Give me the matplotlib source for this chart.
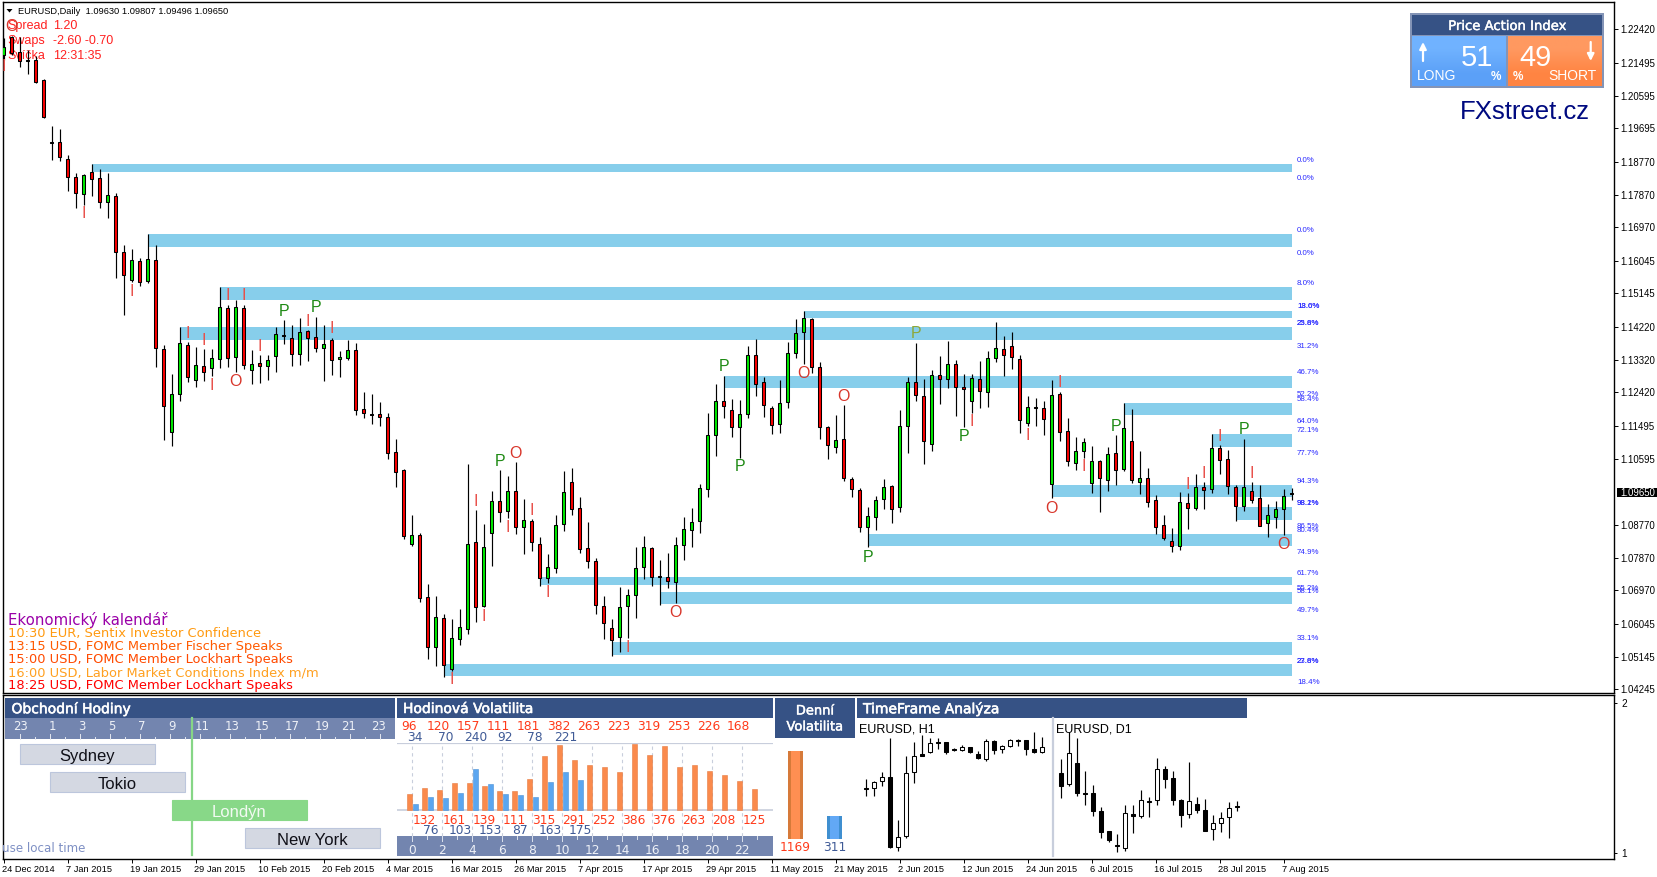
import matplotlib
matplotlib.use('Agg')
import matplotlib.pyplot as plt
import matplotlib.patheffects as pe
from matplotlib.patches import Rectangle, Polygon
from matplotlib.transforms import ScaledTranslation

W, H = 1657, 877

# ---------- daily EURUSD, prices in 1/10000 ----------
body_hi = [12192,12222,12179,12157,12158,12102,11933,11931,11884,11834,
 11840,11848,11832,11785,11782,11628,11606,11603,11609,11606,
 11361,11237,11377,11372,11317,11314,11336,11476,11474,11476,
 11474,11319,11322,11330,11402,11399,11391,11408,11410,11394,
 11375,11386,11339,11358,11358,11196,11182,11182,11173,11077,
 11028,10849,10849,10678,10623,10620,10565,10595,10826,10829,
 10815,10942,10942,10970,10970,10890,10887,10826,10760,10876,
 10967,10994,10923,10813,10777,10653,10592,10650,10683,10758,
 10815,10813,10736,10733,10821,10865,10884,10978,11124,11218,
 11218,11193,11182,11344,11344,11270,11198,11212,11350,11405,
 11446,11443,11311,11146,11110,11113,11003,10972,10901,10945,
 10981,10983,11149,11270,11270,11231,11289,11289,11319,11319,
 11256,11281,11278,11336,11363,11361,11369,11333,11201,11201,
 11198,11234,11237,11135,11082,11105,11052,11052,11072,11074,
 11143,11107,11006,11006,10945,10876,10832,10939,10937,10981,
 10981,11088,11088,11058,10981,10981,10970,10950,10904,10920,
 10956,10964]
body_lo = [12171,12176,12154,12154,12098,12001,11930,11889,11836,11792,
 11789,11831,11767,11767,11628,11566,11553,11547,11550,11364,
 11206,11134,11237,11284,11277,11297,11308,11335,11336,11340,
 11317,11303,11316,11314,11343,11397,11349,11349,11393,11363,
 11363,11330,11333,11338,11193,11186,11179,11173,11076,11024,
 10848,10826,10677,10542,10542,10492,10481,10564,10590,10652,
 10655,10856,10914,10916,10872,10872,10831,10732,10732,10759,
 10879,10920,10810,10777,10658,10606,10561,10568,10653,10683,
 10760,10733,10733,10722,10719,10821,10862,10887,10975,11124,
 11206,11146,11146,11182,11264,11207,11151,11155,11215,11350,
 11408,11311,11146,11096,11091,11005,10975,10872,10871,10900,
 10948,10920,10926,11149,11234,11107,11099,11278,11278,11256,
 11251,11218,11245,11242,11336,11344,11339,11165,11157,11198,
 11168,10989,11132,11052,11049,11080,10992,11005,11002,11029,
 11032,11002,10996,10941,10872,10842,10820,10818,10925,10925,
 10974,10975,11055,10983,10928,10930,10947,10875,10882,10900,
 10920,10961]
wick_hi = [12217,12224,12220,12185,12169,12104,11976,11967,11896,11845,
 11843,11871,11857,11847,11790,11648,11637,11611,11678,11648,
 11373,11293,11423,11381,11367,11362,11362,11532,11483,11497,
 11483,11359,11345,11345,11423,11442,11428,11447,11414,11449,
 11428,11391,11356,11386,11377,11243,11237,11216,11184,11114,
 11030,10905,10854,10714,10681,10631,10617,10647,11045,10918,
 10880,10971,11029,11012,11050,10948,10893,10843,10796,10905,
 11026,11034,10954,10885,10785,10681,10618,10706,10701,10816,
 10847,10816,10781,10800,10843,10899,10924,10990,11185,11265,
 11287,11223,11221,11370,11389,11285,11205,11276,11381,11444,
 11466,11446,11326,11150,11180,11207,11009,10979,10927,10956,
 11004,10987,11194,11285,11378,11279,11304,11342,11384,11330,
 11293,11293,11329,11356,11436,11397,11408,11344,11232,11227,
 11218,11276,11242,11172,11119,11117,11094,11056,11092,11125,
 11213,11196,11081,11034,10959,10905,10869,10968,10965,11017,
 10995,11128,11097,11084,10987,11114,10995,10987,10935,10943,
 10976,10978]
wick_lo = [12158,12171,12139,12119,12093,11999,11882,11879,11797,11751,
 11758,11783,11751,11722,11558,11455,11547,11535,11542,11313,
 11111,11095,11218,11271,11258,11274,11287,11310,11313,11298,
 11307,11265,11268,11276,11298,11375,11315,11318,11329,11352,
 11274,11290,11284,11331,11180,11172,11155,11150,11059,10982,
 10838,10819,10666,10508,10489,10459,10476,10546,10578,10611,
 10650,10764,10886,10895,10853,10797,10805,10710,10716,10745,
 10861,10905,10801,10759,10633,10563,10517,10528,10565,10622,
 10729,10709,10657,10703,10663,10781,10816,10855,10954,11067,
 11172,11119,11061,11172,11232,11174,11128,11130,11199,11337,
 11320,11296,11114,11059,11075,10999,10954,10858,10816,10863,
 10921,10882,10913,11075,11218,11045,11081,11210,11254,11177,
 11146,11185,11199,11202,11326,11287,11307,11130,11150,11150,
 11125,10951,11108,11039,11028,11061,10965,10913,10971,10987,
 11026,10993,10962,10927,10852,10836,10803,10808,10866,10918,
 10921,10965,11017,10962,10889,10915,10938,10874,10844,10869,
 10849,10946]
direction = ("GRRDRRDRRR" "GRRGRRGRGR" "RGGRGRGGRG" "RGRGGDRGRR" "GRGGRRDRRR"
             "RGRRGRGGGR" "GGRGRGRRGG" "GRRRRRRGGG" "GRDRGGGGGG" "RRGGRRRGGG"
             "GRRRGRRRGG" "GRGGRRGRGR" "RGRGGRRRGD" "RGRRGGGRGR" "GRGRRRRGRG"
             "RGRRRGRRGG" "GD")

# supply / demand zones: first bar, upper and lower price
zone_start = [11, 18, 27, 22, 100, 90, 140, 151, 131, 154, 108, 67, 82, 76, 55]
zone_top = [11871,11678,11532,11422,11466,11287,11213,11128,10987,10927,10852,10734,10692,10555,10494]
zone_bot = [11849,11643,11497,11386,11447,11254,11180,11092,10954,10891,10819,10712,10659,10519,10461]

# pattern letters
sig_text = ['O','I','I','I','I','I','I','I','I','O','I','P','P','I','I',
            'P','O','I','I','I','I','I','I','I','O','P','P','O','O','P','P','P','I','I','I','O','I',
            'P','I','I','I','P','I','O']
sig_bar = [1,0,10,16,23,25,26,28,30,29,32,35,39,38,41,
           62,64,59,66,63,60,68,56,78,84,90,92,100,105,108,114,120,121,128,132,131,135,
           139,148,150,152,155,156,160]
sig_price = [12254,12144,11737,11524,11408,11389,11265,11511,11511,11276,11373,11469,11478,11441,11420,
             11054,11077,10946,10921,10874,10629,10693,10454,10544,10640,11317,11040,11298,11235,10792,
             11407,11125,11164,11128,11272,10926,11040,
             11152,10993,11023,11125,11144,11023,10827]

# level percentages
fib_text = ['0.0%','0.0%','0.0%','0.0%','8.0%','13.6%','18.0%','25.8%','23.6%','31.2%','46.7%','52.2%','58.4%',
            '64.0%','72.1%','77.7%','94.3%','98.2%','98.1%','86.5%','80.4%','74.9%','61.7%','55.2%','58.1%',
            '49.7%','33.1%','23.6%','27.8%','18.4%']
fib_price = [11885,11835,11692,11629,11546,11482,11482,11435,11435,11373,11301,11240,11227,
             11166,11141,11078,11001,10940,10940,10877,10866,10805,10747,10706,10698,
             10646,10569,10505,10505,10447]

price_ticks = [1.22420,1.21495,1.20595,1.19695,1.18770,1.17870,1.16970,1.16045,1.15145,1.14220,1.13320,
               1.12420,1.11495,1.10595,1.08770,1.07870,1.06970,1.06045,1.05145,1.04245]
last_price = 1.09650
date_labels = ['24 Dec 2014','7 Jan 2015','19 Jan 2015','29 Jan 2015','10 Feb 2015','20 Feb 2015','4 Mar 2015',
               '16 Mar 2015','26 Mar 2015','7 Apr 2015','17 Apr 2015','29 Apr 2015','11 May 2015','21 May 2015',
               '2 Jun 2015','12 Jun 2015','24 Jun 2015','6 Jul 2015','16 Jul 2015','28 Jul 2015','7 Aug 2015']

calendar_lines = ['10:30 EUR, Sentix Investor Confidence','13:15 USD, FOMC Member Fischer Speaks',
                  '15:00 USD, FOMC Member Lockhart Speaks','16:00 USD, Labor Market Conditions Index m/m',
                  '18:25 USD, FOMC Member Lockhart Speaks']
calendar_colors = ['#FF9A10','#FF5A00','#FF4A00','#FFA020','#FF0000']

# sessions
session_names = ['Sydney','Tokio','Londýn','New York']
session_start = [-1.0, 1.0, 9.13, 14.02]
session_len = [9, 9, 9, 9]
hour_top = [23,1,3,5,7,9,11,13,15,17,19,21,23]
hour_bottom = [0,2,4,6,8,10,12,14,16,18,20,22]
current_hour = 10.47

# hourly volatility
vol_long = [96,132,120,161,157,139,111,111,181,315,382,291,263,252,223,386,319,376,253,263,226,208,168,125]
vol_today = [34,76,70,103,240,153,92,87,78,163,221,175]
vol_day = [1169, 311]

# timeframe mini charts, relative points
h1_top = [207,223,238,238,58,250,301,307,340,344,343,322,328,328,308,347,347,331,349,349,349,322,328]
h1_bot = [204,205,226,30,30,61,253,303,313,341,313,319,321,313,297,293,321,324,333,346,323,314,315]
h1_high = [233,228,253,355,110,302,344,365,355,355,343,325,335,328,317,353,349,335,353,353,350,374,359]
h1_low = [182,182,212,27,17,57,221,303,311,323,309,316,316,312,292,287,308,311,330,333,305,312,312]
h1_kind = "DWWBWWWDWDBDWBBWBWWDBBW"
d1_top = [250,310,280,190,190,136,76,34,130,129,169,166,262,262,235,169,166,157,139,100,115,145,151]
d1_bot = [213,217,192,187,138,75,50,31,27,123,123,163,169,234,171,125,127,141,78,84,102,118,148]
d1_high = [293,374,356,257,215,148,76,68,155,155,200,179,296,272,257,173,284,179,173,124,134,164,166]
d1_low = [176,213,182,155,122,56,44,14,17,71,116,119,155,205,155,89,116,131,77,50,74,56,138]
d1_kind = "BWBDBBBDWBWDWBBBWBBWWWD"

ARIAL = ['Liberation Sans', 'DejaVu Sans']
VERD = ['DejaVu Sans']
HDR = '#365285'
BAND = '#7385AF'
GRID = '#C8CEDC'

fig = plt.figure(figsize=(W/100, H/100), dpi=100, facecolor='white')

def px_axes(l, t, r, b, z=0):
    a = fig.add_axes([l/W, 1-b/H, (r-l)/W, (b-t)/H], zorder=z)
    return a

def bare(a):
    a.set_axis_off()
    a.patch.set_alpha(0)
    return a

# overlays in figure pixels
shapes = bare(px_axes(0, 0, W, H, 1)); shapes.set_xlim(0, W); shapes.set_ylim(H, 0)
labels = bare(px_axes(0, 0, W, H, 5)); labels.set_xlim(0, W); labels.set_ylim(H, 0)

def price_at(y):
    return 1.2242 - (y - 29.3) * 0.18175 / 660

def bar_at(x):
    return (x - 3.6) / 8

# ---------- main chart ----------
main = px_axes(2.5, 2.3, 1614, 693.3, 0)
main.set_xlim(bar_at(2.5), bar_at(1614))
main.set_ylim(price_at(693.3), price_at(2.3))
for s in main.spines.values():
    s.set_linewidth(1.0); s.set_color('black')
main.set_xticks([])
main.yaxis.tick_right()
main.set_yticks(price_ticks)
main.set_yticklabels([f'{v:.5f}' for v in price_ticks], fontsize=6.9, family=ARIAL)
main.tick_params(axis='y', length=2.6, width=0.7, pad=2.2)

last_bar = len(body_hi) - 1
for s, t, b in zip(zone_start, zone_top, zone_bot):
    main.add_patch(Rectangle((s, b/1e4), last_bar - s, (t-b)/1e4, fc='#87CEEB', ec='none', zorder=2))

xs = list(range(len(body_hi)))
main.vlines(xs, [v/1e4 for v in wick_lo], [v/1e4 for v in wick_hi], color='black', lw=0.85, zorder=3)
colmap = {'G': '#00E800', 'R': '#F80000', 'D': 'black'}
main.bar(xs, [(t-b)/1e4 for t, b in zip(body_hi, body_lo)], bottom=[b/1e4 for b in body_lo], width=0.46,
         color=[colmap[d] for d in direction], edgecolor='black', linewidth=0.75, zorder=4)

sigcol = {'P': '#1E8A14', 'O': '#D8352A', 'I': '#E8504A'}
down1 = main.transData + ScaledTranslation(0, -0.012, fig.dpi_scale_trans)
for t, b, p in zip(sig_text, sig_bar, sig_price):
    col = '#8EA83A' if (t == 'P' and b == 114) else sigcol[t]
    main.text(b, p/1e4, t, color=col, fontsize=11.5, family=ARIAL, ha='center', va='center', zorder=6, transform=down1)

for t, p in zip(fib_text, fib_price):
    main.text(bar_at(1297), p/1e4, t, color='#2A2AFF', fontsize=5.7, family=ARIAL, ha='left', va='center', zorder=2, transform=down1)

# chart header text, under the candles
pix = shapes.transData
def under(x, y, s, **kw):
    main.text(x, y, s, transform=pix, va='center', ha='left', zorder=1, clip_on=False, **kw)

under(18, 11.2, 'EURUSD,Daily  1.09630 1.09807 1.09496 1.09650', color='black', fontsize=6.7, family=ARIAL)
for y, a, v in zip([26.2, 41.2, 56.2], ['Spread', 'Swaps', 'Svíčka'], ['1.20', '-2.60 -0.70', '12:31:35']):
    under(7, y, a, color='#FF2020', fontsize=9.0, family=ARIAL)
    under(53, y, v, color='#FF2020', fontsize=9.0, family=ARIAL)
under(8.2, 620.3, 'Ekonomický kalendář', color='#9A00A8', fontsize=10.7, family=VERD)
for y, s, c in zip([633.7, 646.7, 659.7, 672.7, 685.7], calendar_lines, calendar_colors):
    under(8.2, y, s, color=c, fontsize=9.4, family=VERD)
shapes.add_patch(Polygon([(6.5, 9), (12.5, 9), (9.5, 12.5)], fc='black', ec='none'))

# last price tag
shapes.add_patch(Rectangle((1616.7, 487.7), 40, 9.7, fc='black', ec='none', clip_on=False))
labels.text(1620, 492.7, f'{last_price:.5f}', color='white', fontsize=6.9, family=ARIAL, va='center')

# ---------- lower panel ----------
low = px_axes(2.5, 695.3, 1614, 859, 0)
low.set_xlim(bar_at(2.5), bar_at(1614))
low.set_ylim(0, 1)
for s in low.spines.values():
    s.set_linewidth(1.0); s.set_color('black')
low.set_xticks(list(range(0, 8*len(date_labels), 8)))
low.set_xticklabels(date_labels, fontsize=6.7, family=ARIAL, ha='left')
low.tick_params(axis='x', length=2.6, width=0.7, pad=1.6)
left2 = ScaledTranslation(-2/100, 0, fig.dpi_scale_trans)
for lab in low.get_xticklabels():
    lab.set_transform(lab.get_transform() + left2)
low.yaxis.tick_right()
low.set_yticks([0.039, 0.955])
low.set_yticklabels(['1', '2'], fontsize=7.2, family=ARIAL)
low.tick_params(axis='y', length=2, width=0.7, pad=3.5)

def rect(x0, y0, x1, y1, **kw):
    shapes.add_patch(Rectangle((x0, y0), x1-x0, y1-y0, ec='none', **kw))

def header(x0, x1, xt, s):
    rect(x0, 698, x1, 718, fc=HDR)
    t = labels.text(xt, 709, s, color='white', fontsize=10, family=VERD, va='center', ha='left')
    t.set_path_effects([pe.withStroke(linewidth=0.4, foreground='white')])

# trading hours
header(5, 395, 11.5, 'Obchodní Hodiny')
rect(5, 718, 395, 739, fc=BAND)
top_nudge = [0,2,2,2,2,2,2,2,2,2,2,-1,-1]
for i, h in enumerate(hour_top):
    x = 20 + 30*i
    labels.text(x + top_nudge[i], 727, str(h), color='#EEF1F7', fontsize=8.4, family=VERD, ha='center', va='center')
    shapes.plot([x, x], [734, 739], color='#E4E8F0', lw=0.7)
    if i < 12:
        shapes.plot([x+15, x+15], [736.5, 739], color='#E4E8F0', lw=0.7)

sess = bare(px_axes(5, 739, 395, 855, 2))
sess.set_xlim((5-35)/15, (395-35)/15)
sess.set_ylim(3.607, -0.536)
shapes.plot([35 + 15*current_hour]*2, [718, 855], color='#86D686', lw=1.6)
for i, (n, s, d) in enumerate(zip(session_names, session_start, session_len)):
    green = n == 'Londýn'
    sess.barh(i, d, left=s, height=0.696, color='#88D888' if green else '#D4D8E2',
              edgecolor='#88D888' if green else '#BCC6DC', linewidth=0.8)
    labels.text(35 + 15*(s + d/2) - 0.5, 754 + 28*i + 2.5, n, color='#F2FAF2' if green else '#101018',
                fontsize=12, family=ARIAL, ha='center', va='center')
labels.text(2.5, 849, 'use local time', color='#7F90C4', fontsize=8.6, family=VERD, va='center')

# hourly volatility
header(397, 773, 403, 'Hodinová Volatilita')
rect(397, 836, 773, 856, fc=BAND)
vol = bare(px_axes(397, 743.3, 773, 836, 2))
vol.set_xlim((397-409.3)/15, (773-409.3)/15)
vol.set_ylim(-150, 390)
vol.axhline(0, color=GRID, lw=1.2, zorder=1)
vol.axhline(390, color=GRID, lw=1.6, zorder=1)
for h in hour_bottom:
    vol.axvline(h + 0.2, color=GRID, lw=0.8, ls=(0, (3, 3)), zorder=1)
vol.bar(range(len(vol_long)), vol_long, width=1/3, color='#FA8A4C', edgecolor='#E67C42', linewidth=0.4, zorder=2)
vol.bar([i + 0.38 for i in range(len(vol_today))], vol_today, width=1/3, color='#5BA6F0', edgecolor='#4A90D6', linewidth=0.4, zorder=2)

RED = '#FF3A1A'; NAVY = '#3F5A96'
for i in range(len(vol_long)):
    if i % 2 == 0:
        labels.text(408.7 + 15*i, 727, str(vol_long[i]), color=RED, fontsize=8.8, family=VERD, ha='center', va='center')
    else:
        labels.text(409 + 15*i, 821, str(vol_long[i]), color=RED, fontsize=8.8, family=VERD, ha='center', va='center')
for i in range(len(vol_today)):
    if i % 2 == 0:
        labels.text(415.3 + 15*i, 737.7, str(vol_today[i]), color=NAVY, fontsize=8.8, family=VERD, ha='center', va='center')
    else:
        labels.text(415.3 + 15*i, 830.5, str(vol_today[i]), color=NAVY, fontsize=8.8, family=VERD, ha='center', va='center')
for h in hour_bottom:
    x = 412 + 15*h
    labels.text(x, 850, str(h), color='#EEF1F7', fontsize=8.8, family=VERD, ha='center', va='center')
    shapes.plot([x, x], [836, 841], color='#DDE2EC', lw=0.7)
    shapes.plot([x+15, x+15], [836, 838.5], color='#DDE2EC', lw=0.7)

# daily volatility
rect(775, 698, 855, 738, fc=HDR)
for y, s in zip([711, 727], ['Denní', 'Volatilita']):
    t = labels.text(815, y, s, color='white', fontsize=9.4, family=VERD, ha='center', va='center')
    t.set_path_effects([pe.withStroke(linewidth=0.3, foreground='white')])
day = bare(px_axes(775, 751, 855, 839, 2))
day.set_xlim((775-795.5)/39, (855-795.5)/39)
day.set_ylim(0, vol_day[0])
day.bar([0, 1], vol_day, width=15/39, color=['#D67A3A', '#3F8FD0'])
day.bar([0, 1], vol_day, width=9/39, color=['#FF8F52', '#62A8F5'])
labels.text(795.5, 847.7, str(vol_day[0]), color=RED, fontsize=8.8, family=VERD, ha='center', va='center')
labels.text(835, 847.7, str(vol_day[1]), color=NAVY, fontsize=8.8, family=VERD, ha='center', va='center')

# timeframe analysis
header(857, 1247, 863, 'TimeFrame Analýza')
shapes.plot([1052.7, 1052.7], [718, 856], color=GRID, lw=1.6)

def mini(l, r, first, title, tx, top, bot, high, lowv, kind):
    a = bare(px_axes(l, 718, r, 856, 2))
    a.set_xlim((l-first)/8, (r-first)/8)
    a.set_ylim(2, 416)
    n = list(range(len(top)))
    a.vlines(n, lowv, high, color='black', lw=0.85, zorder=3)
    a.bar(n, [t-b for t, b in zip(top, bot)], bottom=bot, width=0.46,
          color=['white' if k == 'W' else 'black' for k in kind], edgecolor='black', linewidth=0.75, zorder=4)
    labels.text(tx, 729.5, title, color='black', fontsize=9.0, family=ARIAL, va='center')

mini(857, 1052, 866.3, 'EURUSD, H1', 859, h1_top, h1_bot, h1_high, h1_low, h1_kind)
mini(1054, 1247, 1061.3, 'EURUSD, D1', 1056, d1_top, d1_bot, d1_high, d1_low, d1_kind)

# ---------- price action widget ----------
rect(1410.3, 13.3, 1603.7, 87.7, fc='#8494B6')
rect(1412, 15, 1602, 35, fc=HDR)
shapes.imshow([[(0.44, 0.70, 1.0)], [(0.36, 0.63, 0.97)]], extent=(1412, 1506, 86, 36), aspect='auto', interpolation='bilinear', zorder=2)
shapes.imshow([[(1.0, 0.60, 0.38)], [(1.0, 0.52, 0.26)]], extent=(1508, 1602, 86, 36), aspect='auto', interpolation='bilinear', zorder=2)
shapes.set_xlim(0, W); shapes.set_ylim(H, 0)
t = labels.text(1508, 26.5, 'Price Action Index', color='white', fontsize=9.5, family=VERD, ha='center', va='center')
t.set_path_effects([pe.withStroke(linewidth=0.3, foreground='white')])
labels.text(1477, 57.5, '51', color='white', fontsize=21, family=ARIAL, ha='center', va='center')
labels.text(1535, 57.5, '49', color='white', fontsize=21, family=ARIAL, ha='center', va='center')
labels.text(1416.7, 75.8, 'LONG', color='white', fontsize=10, family=ARIAL, ha='left', va='center')
labels.text(1596.7, 75.8, 'SHORT', color='white', fontsize=10, family=ARIAL, ha='right', va='center')
labels.text(1495.7, 77.5, '%', color='white', fontsize=8.5, family=ARIAL, fontweight='bold', ha='center', va='center')
labels.text(1518, 77.5, '%', color='white', fontsize=8.5, family=ARIAL, fontweight='bold', ha='center', va='center')
labels.annotate('', xy=(1423, 42), xytext=(1423, 61), arrowprops=dict(arrowstyle='-|>', color='white', lw=1.6, mutation_scale=10, shrinkA=0, shrinkB=0))
labels.annotate('', xy=(1590.7, 61), xytext=(1590.7, 42), arrowprops=dict(arrowstyle='-|>', color='white', lw=1.6, mutation_scale=10, shrinkA=0, shrinkB=0))
labels.text(1524.5, 112, 'FXstreet.cz', color='#000A80', fontsize=18.5, family=ARIAL, ha='center', va='center')

fig.savefig('out.png', dpi=100, facecolor='white')
